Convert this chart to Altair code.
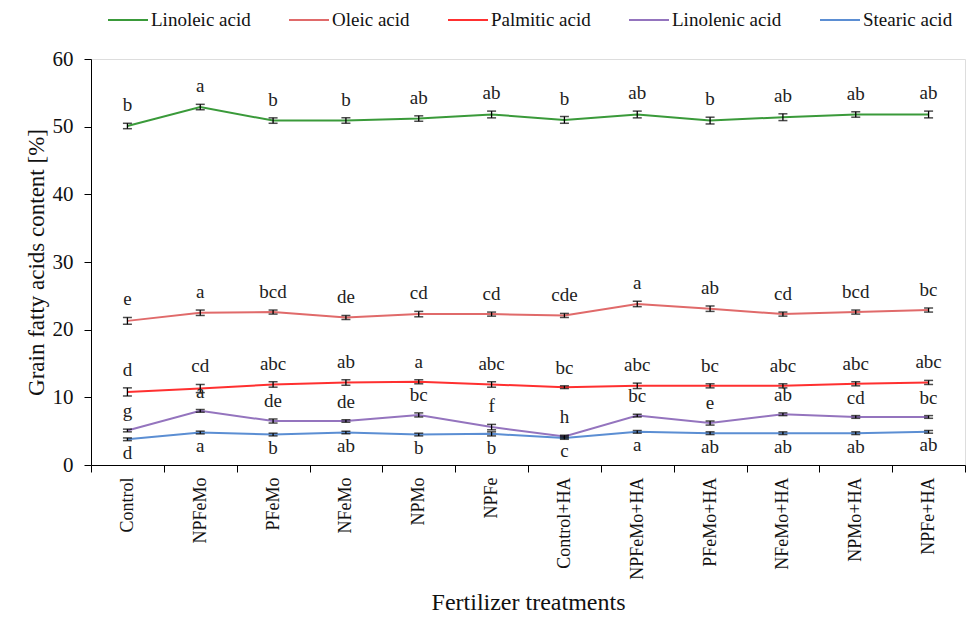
import altair as alt
import pandas as pd

treatments = ["Control", "NPFeMo", "PFeMo", "NFeMo", "NPMo", "NPFe", "Control+HA",
              "NPFeMo+HA", "PFeMo+HA", "NFeMo+HA", "NPMo+HA", "NPFe+HA"]
series_names = ["Linoleic acid", "Oleic acid", "Palmitic acid", "Linolenic acid", "Stearic acid"]
series_colors = ["#3A9A3A", "#E06A6A", "#FF3030", "#9474BE", "#5B8ED3"]

linoleic = [50.1, 52.9, 50.9, 50.9, 51.2, 51.8, 51.0, 51.8, 50.9, 51.4, 51.8, 51.8]
linoleic_err = [0.4, 0.4, 0.4, 0.4, 0.4, 0.5, 0.5, 0.5, 0.5, 0.5, 0.4, 0.5]
linoleic_letters = ["b", "a", "b", "b", "ab", "ab", "b", "ab", "b", "ab", "ab", "ab"]

oleic = [21.3, 22.5, 22.6, 21.8, 22.3, 22.3, 22.1, 23.8, 23.1, 22.3, 22.6, 22.9]
oleic_err = [0.5, 0.4, 0.3, 0.3, 0.4, 0.3, 0.3, 0.4, 0.4, 0.3, 0.3, 0.3]
oleic_letters = ["e", "a", "bcd", "de", "cd", "cd", "cde", "a", "ab", "cd", "bcd", "bc"]

palmitic = [10.8, 11.3, 11.9, 12.2, 12.3, 11.9, 11.5, 11.7, 11.7, 11.7, 12.0, 12.2]
palmitic_err = [0.6, 0.6, 0.4, 0.4, 0.3, 0.4, 0.2, 0.4, 0.3, 0.3, 0.3, 0.3]
palmitic_letters = ["d", "cd", "abc", "ab", "a", "abc", "bc", "abc", "bc", "abc", "abc", "abc"]

linolenic = [5.1, 8.0, 6.5, 6.5, 7.4, 5.6, 4.2, 7.3, 6.2, 7.5, 7.1, 7.1]
linolenic_err = [0.2, 0.2, 0.3, 0.2, 0.3, 0.4, 0.2, 0.2, 0.3, 0.2, 0.2, 0.2]
linolenic_letters = ["g", "a", "de", "de", "bc", "f", "h", "bc", "e", "ab", "cd", "bc"]

stearic = [3.8, 4.8, 4.5, 4.8, 4.5, 4.6, 4.0, 4.9, 4.7, 4.7, 4.7, 4.9]
stearic_err = [0.2, 0.2, 0.2, 0.2, 0.2, 0.3, 0.2, 0.2, 0.2, 0.2, 0.2, 0.2]
stearic_letters = ["d", "a", "b", "ab", "b", "b", "c", "a", "ab", "ab", "ab", "ab"]

series_values = [linoleic, oleic, palmitic, linolenic, stearic]
series_errs = [linoleic_err, oleic_err, palmitic_err, linolenic_err, stearic_err]
series_letters = [linoleic_letters, oleic_letters, palmitic_letters, linolenic_letters, stearic_letters]
series_side = ["above", "above", "above", "above", "below"]

rows = []
for name, vals, errs, lets, side in zip(series_names, series_values, series_errs, series_letters, series_side):
    for t, v, e, l in zip(treatments, vals, errs, lets):
        rows.append({"treatment": t, "series": name, "value": v, "lo": v - e, "hi": v + e,
                     "letter": l, "side": side})
df = pd.DataFrame(rows)

FONT = "Liberation Serif"

x_enc = alt.X("treatment:N", sort=treatments,
              scale=alt.Scale(type="band", paddingInner=0, paddingOuter=0),
              axis=alt.Axis(title="Fertilizer treatments", labelAngle=-90, labelFont=FONT,
                            labelFontSize=18, labelColor="#111", labelPadding=5,
                            tickBand="extent", tickSize=7, tickColor="black", domainColor="black",
                            titleFont=FONT, titleFontSize=24, titleFontWeight="normal",
                            titleColor="#111", titleY=144, titleBaseline="alphabetic"))
y_scale = alt.Scale(domain=[0, 60])
y_axis = alt.Axis(title="Grain fatty acids content [%]", values=[0, 10, 20, 30, 40, 50, 60],
                  grid=False, labelFont=FONT, labelFontSize=21, labelColor="#111", labelPadding=11,
                  tickSize=7, tickColor="black", domainColor="black",
                  titleFont=FONT, titleFontSize=23, titleFontWeight="normal", titleColor="#111",
                  titleX=-48, titleBaseline="alphabetic")

base = alt.Chart(df)

lines = base.mark_line(strokeWidth=2).encode(
    x=x_enc,
    y=alt.Y("value:Q", scale=y_scale, axis=y_axis),
    color=alt.Color("series:N", scale=alt.Scale(domain=series_names, range=series_colors),
                    legend=alt.Legend(title=None, orient="none", legendX=16, legendY=-60,
                                      direction="horizontal", symbolType="stroke",
                                      symbolSize=1600, symbolStrokeWidth=2, labelFont=FONT,
                                      labelFontSize=19, labelColor="#111", labelOffset=2,
                                      columnPadding=34, padding=0)),
    detail="series:N",
)

rules = base.mark_rule(color="black", strokeWidth=1.3).encode(
    x=alt.X("treatment:N", sort=treatments),
    y=alt.Y("lo:Q", scale=y_scale),
    y2="hi:Q",
)
caps_lo = base.mark_tick(color="black", size=9, thickness=1.5).encode(
    x=alt.X("treatment:N", sort=treatments),
    y=alt.Y("lo:Q", scale=y_scale),
)
caps_hi = base.mark_tick(color="black", size=9, thickness=1.5).encode(
    x=alt.X("treatment:N", sort=treatments),
    y=alt.Y("hi:Q", scale=y_scale),
)

text_above = base.transform_filter(alt.datum.side == "above").mark_text(
    font=FONT, fontSize=19, color="#222", baseline="middle", dy=-18).encode(
    x=alt.X("treatment:N", sort=treatments),
    y=alt.Y("hi:Q", scale=y_scale),
    text="letter:N",
)
text_below = base.transform_filter(alt.datum.side == "below").mark_text(
    font=FONT, fontSize=19, color="#222", baseline="middle", dy=12).encode(
    x=alt.X("treatment:N", sort=treatments),
    y=alt.Y("lo:Q", scale=y_scale),
    text="letter:N",
)

chart = alt.layer(lines, rules, caps_lo, caps_hi, text_above, text_below).properties(
    width=874, height=406,
    autosize=alt.AutoSizeParams(type="none"),
    padding={"left": 83, "top": 51, "right": 4, "bottom": 153},
).configure_view(stroke=None).configure(background="white")

chart.save("out.html", embed_options={"renderer": "svg", "actions": False})
